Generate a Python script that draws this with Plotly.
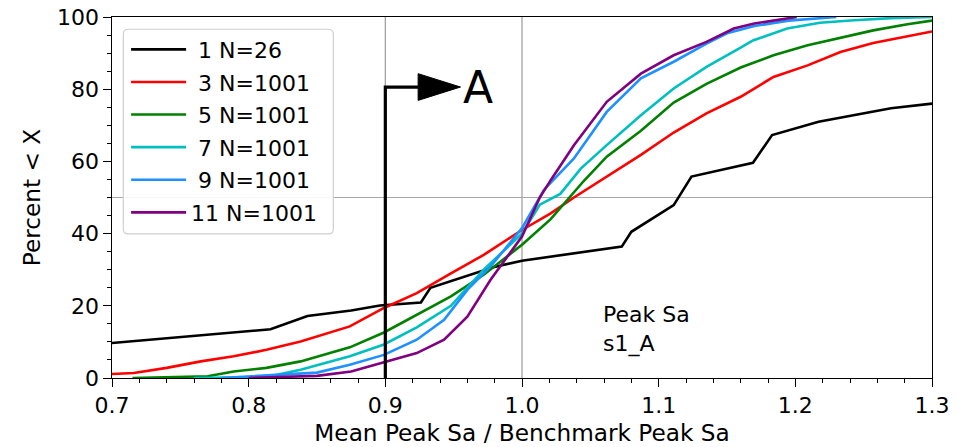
import plotly.graph_objects as go

# ---------------- data ----------------
labels = ["\u00a01 N=26", "\u00a03 N=1001", "\u00a05 N=1001", "\u00a07 N=1001", "\u00a09 N=1001", "11 N=1001"]
colors = ["#000000", "#ff0000", "#008000", "#00bfbf", "#1e90ff", "#800080"]

x1 = [0.700, 0.816, 0.843, 0.875, 0.896, 0.926, 0.933, 0.979, 1.000, 1.073, 1.080, 1.111, 1.124, 1.169, 1.183, 1.217, 1.270, 1.300]
y1 = [9.7, 13.5, 17.2, 18.7, 20.1, 20.9, 25.0, 30.7, 32.5, 36.4, 40.5, 47.9, 55.8, 59.6, 67.3, 71.0, 74.7, 76.0]

x3 = [0.700, 0.716, 0.740, 0.765, 0.789, 0.813, 0.838, 0.862, 0.874, 0.899, 0.923, 0.948, 0.972, 1.000, 1.021, 1.038, 1.062, 1.087, 1.111, 1.135, 1.160, 1.184, 1.209, 1.233, 1.257, 1.282, 1.300]
y3 = [1.1, 1.4, 2.8, 4.6, 6.0, 7.8, 10.1, 12.9, 14.3, 19.4, 23.5, 29.0, 34.1, 41.0, 45.6, 50.0, 55.8, 61.8, 68.0, 73.3, 77.9, 83.4, 86.6, 90.3, 92.8, 94.7, 96.0]

x5 = [0.715, 0.770, 0.789, 0.813, 0.838, 0.874, 0.899, 0.923, 0.948, 0.972, 1.000, 1.021, 1.045, 1.062, 1.087, 1.111, 1.135, 1.160, 1.184, 1.209, 1.233, 1.257, 1.282, 1.300]
y5 = [0.0, 0.5, 1.8, 2.8, 4.6, 8.5, 12.6, 17.5, 22.6, 28.6, 36.9, 44.0, 54.5, 61.3, 68.5, 76.3, 81.5, 86.0, 89.4, 92.2, 94.3, 96.3, 98.0, 99.0]

x7 = [0.760, 0.813, 0.838, 0.874, 0.899, 0.923, 0.948, 0.972, 1.000, 1.013, 1.028, 1.043, 1.062, 1.087, 1.111, 1.135, 1.160, 1.169, 1.194, 1.218, 1.243, 1.270, 1.300]
y7 = [0.0, 0.3, 2.3, 6.0, 9.3, 14.0, 20.0, 30.0, 40.0, 48.0, 51.0, 58.0, 64.5, 72.8, 80.2, 86.2, 91.5, 93.5, 96.8, 98.4, 99.1, 99.7, 100.0]

x9 = [0.780, 0.850, 0.874, 0.899, 0.923, 0.943, 0.960, 0.977, 1.000, 1.016, 1.038, 1.062, 1.087, 1.111, 1.135, 1.150, 1.170, 1.195, 1.230]
y9 = [0.0, 1.5, 3.7, 6.4, 10.6, 16.1, 24.4, 30.9, 41.5, 52.1, 60.8, 73.7, 83.0, 87.6, 92.6, 95.5, 97.5, 99.0, 100.0]

x11 = [0.800, 0.850, 0.875, 0.899, 0.923, 0.943, 0.960, 0.977, 1.000, 1.013, 1.021, 1.038, 1.062, 1.087, 1.111, 1.135, 1.155, 1.170, 1.190, 1.201]
y11 = [0.0, 0.6, 1.8, 4.3, 6.9, 10.6, 17.0, 27.2, 39.2, 50.0, 54.8, 64.5, 76.5, 84.3, 89.4, 93.1, 96.8, 98.2, 99.4, 100.0]

series_x = [x1, x3, x5, x7, x9, x11]
series_y = [y1, y3, y5, y7, y9, y11]

x_ticks = [0.7, 0.8, 0.9, 1.0, 1.1, 1.2, 1.3]
x_ticktext = ["0.7", "0.8", "0.9", "1.0", "1.1", "1.2", "1.3"]
y_ticks = [0, 20, 40, 60, 80, 100]

ref_x = [0.9, 1.0]
ref_y = [50]

# "A" section marker
arrow_x, arrow_y, arrow_head_x0, arrow_head_x1, arrow_head_half = 0.9, 80.6, 0.924, 0.955, 3.7
note_text = "Peak Sa<br>s1_A"
note_x, note_y = 1.058, 13.5

FONT = "DejaVu Sans"

fig = go.Figure()
for xs, ys, lab, col in zip(series_x, series_y, labels, colors):
    fig.add_trace(go.Scatter(x=xs, y=ys, mode="lines", name=lab, legendgroup=lab,
                             line=dict(color=col, width=2.6)))

shapes = []
for xv in ref_x:
    shapes.append(dict(type="line", xref="x", yref="y", x0=xv, x1=xv, y0=0, y1=100,
                       line=dict(color="#9a9a9a", width=1.2), layer="below"))
for yv in ref_y:
    shapes.append(dict(type="line", xref="x", yref="y", x0=0.7, x1=1.3, y0=yv, y1=yv,
                       line=dict(color="#a8a8a8", width=1.2), layer="below"))

# legend frame (rounded)
lx0, lx1, ly0, ly1, rx, ry = 0.0138, 0.2699, 0.3991, 0.9660, 0.0061, 0.0138
path = (f"M {lx0+rx},{ly1} L {lx1-rx},{ly1} Q {lx1},{ly1} {lx1},{ly1-ry} "
        f"L {lx1},{ly0+ry} Q {lx1},{ly0} {lx1-rx},{ly0} L {lx0+rx},{ly0} "
        f"Q {lx0},{ly0} {lx0},{ly0+ry} L {lx0},{ly1-ry} Q {lx0},{ly1} {lx0+rx},{ly1} Z")
shapes.append(dict(type="path", xref="paper", yref="paper", path=path,
                   line=dict(color="#d0d0d0", width=1.2), fillcolor="rgba(255,255,255,0.9)", layer="above"))

# arrow
shapes.append(dict(type="path", xref="x", yref="y",
                   path=f"M {arrow_x},0 L {arrow_x},{arrow_y} L {arrow_head_x0},{arrow_y}",
                   line=dict(color="black", width=3.2), layer="above"))
shapes.append(dict(type="path", xref="x", yref="y",
                   path=f"M {arrow_head_x0},{arrow_y-arrow_head_half} L {arrow_head_x1},{arrow_y} "
                        f"L {arrow_head_x0},{arrow_y+arrow_head_half} Z",
                   line=dict(color="black", width=1), fillcolor="black", layer="above"))

annotations = [
    dict(x=arrow_head_x1, y=arrow_y, xref="x", yref="y", text="A", showarrow=False,
         xanchor="left", yanchor="middle", font=dict(family=FONT, size=44, color="black")),
    dict(x=note_x, y=note_y, xref="x", yref="y", text=note_text, showarrow=False, align="left",
         xanchor="left", yanchor="middle", font=dict(family=FONT, size=22, color="black")),
]

axis_common = dict(ticks="outside", ticklen=7.5, tickwidth=1.2, tickcolor="black",
                   showgrid=False, zeroline=False, showline=True, mirror=True,
                   linecolor="black", linewidth=1.2,
                   tickfont=dict(family=FONT, size=22, color="black"))

fig.update_layout(
    width=964, height=447,
    margin=dict(l=111.7, r=32.3, t=16.7, b=68.7, autoexpand=False),
    paper_bgcolor="white", plot_bgcolor="white",
    font=dict(family=FONT, color="black"),
    shapes=shapes, annotations=annotations,
    showlegend=True,
    legend=dict(x=0.0172, y=0.968, xanchor="left", yanchor="top",
                bgcolor="rgba(0,0,0,0)", borderwidth=0,
                font=dict(family=FONT, size=22, color="black"),
                tracegroupgap=1.0, itemwidth=55),
    xaxis=dict(range=[0.7, 1.3], tickvals=x_ticks, ticktext=x_ticktext,
               minor=dict(dtick=0.02, ticks="outside", ticklen=4, tickwidth=1, tickcolor="black", showgrid=False),
               title=dict(text="Mean Peak Sa / Benchmark Peak Sa", font=dict(family=FONT, size=23.2, color="black"), standoff=7),
               automargin=False, **axis_common),
    yaxis=dict(range=[0, 100], tickvals=y_ticks,
               minor=dict(dtick=5, ticks="outside", ticklen=4, tickwidth=1, tickcolor="black", showgrid=False),
               title=dict(text="Percent < X", font=dict(family=FONT, size=23.2, color="black"), standoff=9),
               automargin=False, **axis_common),
)

fig.write_html("out.html")
